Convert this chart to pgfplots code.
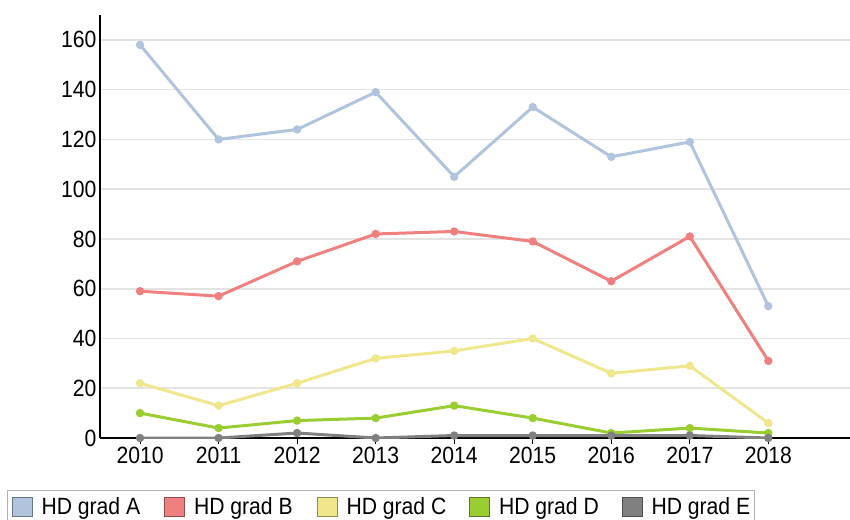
\documentclass[border=0pt]{standalone}
\usepackage{fontspec}
\setmainfont{Liberation Sans}[FakeStretch=0.9]
\usepackage{pgfplots}
\pgfplotsset{compat=1.18}
\definecolor{cA}{HTML}{B0C4DE}
\definecolor{cB}{HTML}{F08080}
\definecolor{cC}{HTML}{F0E68C}
\definecolor{cD}{HTML}{9ACD32}
\definecolor{cE}{HTML}{808080}
\definecolor{gridc}{HTML}{E3E3E3}
\newcommand{\patch}[1]{\draw[fill=#1, draw=#1!60!black, line width=1pt] (0pt,-9.5pt) rectangle (20pt,9.5pt);}
\newcommand{\lt}[1]{\makebox[97pt][l]{#1}}
\begin{document}
\begin{tikzpicture}
\begin{axis}[
  at={(0pt,0pt)}, anchor=origin,
  scale only axis, width=750pt, height=423pt,
  xmin=2009.49, xmax=2019.04, ymin=0, ymax=170,
  axis lines*=left,
  axis line style={black, line width=1.3pt},
  xtick={2010,2011,...,2018},
  ytick={0,20,...,160},
  /pgf/number format/1000 sep={},
  /pgf/number format/assume math mode=true,
  tick label style={font=\fontsize{23.5}{26}\selectfont, black},
  x tick style={black, line width=1pt},
  xtick align=outside,
  x tick label style={yshift=-1pt},
  major x tick style={/pgfplots/major tick length=6pt},
  y tick style={draw=none},
  ymajorgrids,
  grid style={gridc, line width=1.6pt},
  every axis plot/.append style={line width=3pt, mark=*, mark size=2.6pt},
  legend columns=5,
  legend style={
    at={(-0.124,-0.1230)}, anchor=north west,
    draw=black!30, line width=1pt, fill=white,
    font=\fontsize{23.5}{26}\selectfont,
    inner xsep=4pt, inner ysep=5pt,
    /tikz/every odd column/.append style={column sep=7pt},
    /tikz/every even column/.append style={column sep=23.5pt},
  },
  legend cell align=left,
]
\addplot[color=cA, mark options={fill=cA}, legend image code/.code={\patch{cA}}] coordinates {
(2010,158) (2011,120) (2012,124) (2013,139) (2014,105) (2015,133) (2016,113) (2017,119) (2018,53)};
\addlegendentry{\lt{HD grad A}}
\addplot[color=cB, mark options={fill=cB}, legend image code/.code={\patch{cB}}] coordinates {
(2010,59) (2011,57) (2012,71) (2013,82) (2014,83) (2015,79) (2016,63) (2017,81) (2018,31)};
\addlegendentry{\lt{HD grad B}}
\addplot[color=cC, mark options={fill=cC}, legend image code/.code={\patch{cC}}] coordinates {
(2010,22) (2011,13) (2012,22) (2013,32) (2014,35) (2015,40) (2016,26) (2017,29) (2018,6)};
\addlegendentry{\lt{HD grad C}}
\addplot[color=cD, mark options={fill=cD}, legend image code/.code={\patch{cD}}] coordinates {
(2010,10) (2011,4) (2012,7) (2013,8) (2014,13) (2015,8) (2016,2) (2017,4) (2018,2)};
\addlegendentry{\lt{HD grad D}}
\addplot[color=cE, mark options={fill=cE}, legend image code/.code={\patch{cE}}] coordinates {
(2010,0) (2011,0) (2012,2) (2013,0) (2014,1) (2015,1) (2016,1) (2017,1) (2018,0)};
\addlegendentry{\lt{HD grad E}}
\end{axis}
\pgfresetboundingbox
\useasboundingbox (-100pt,-81pt) rectangle (750pt,438pt);
\end{tikzpicture}
\end{document}
